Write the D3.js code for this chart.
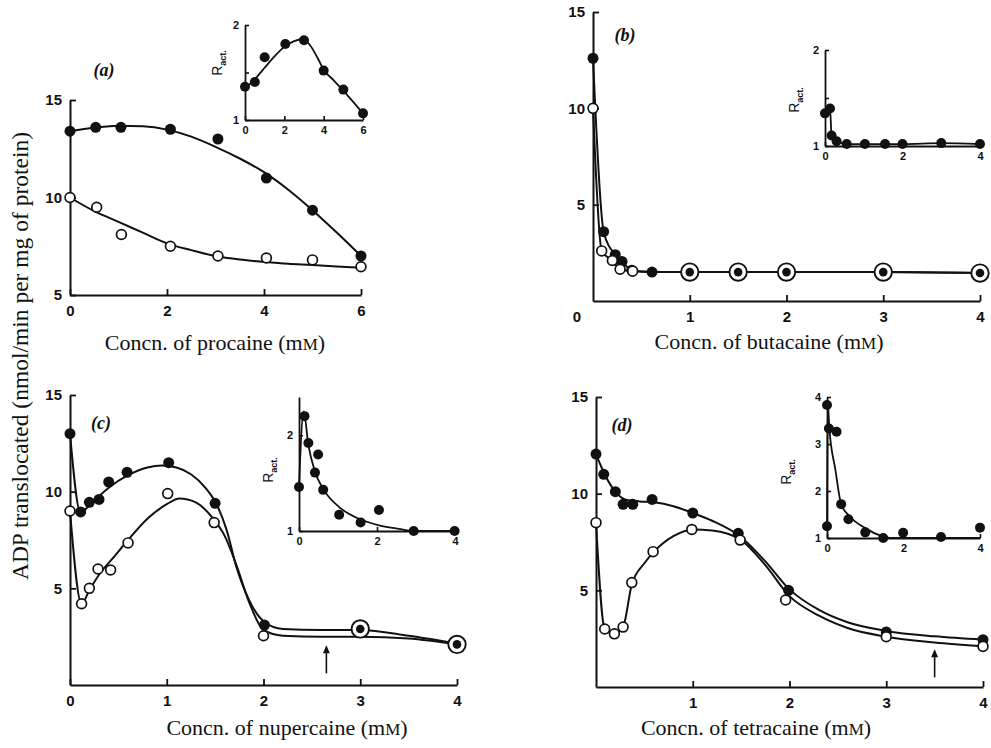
<!DOCTYPE html>
<html>
<head>
<meta charset="utf-8">
<script src="https://cdn.jsdelivr.net/npm/d3@7"></script>
<style>
  body { margin: 0; background: #fff; }
  svg { display: block; }
</style>
</head>
<body>
<script>
// ---- data (x = mM, y = nmol/min per mg) ----

// (a) procaine
var procaineFilled = [[0,13.4],[0.53,13.6],[1.05,13.6],[2.07,13.5],[3.05,13.0],[4.05,11.0],[5,9.35],[6,7.0]]
var procaineOpen = [[0,10.0],[0.55,9.5],[1.06,8.1],[2.07,7.5],[3.05,7.0],[4.05,6.9],[5,6.8],[6,6.45]]
var procaineFilledFit = [[0,13.4],[0.5,13.58],[1,13.68],[1.5,13.65],[2,13.48],[2.5,13.12],[3,12.6],[3.5,12.0],[4,11.3],[4.5,10.4],[5,9.35],[5.5,8.2],[6,7.0]]
var procaineOpenFit = [[0,10.0],[0.5,9.3],[1,8.75],[1.5,8.2],[2,7.65],[2.5,7.3],[3,7.0],[3.5,6.82],[4,6.7],[4.5,6.6],[5,6.54],[5.5,6.46],[6,6.4]]
var procaineRact = [[0,1.35],[0.5,1.4],[1,1.66],[2.05,1.8],[3,1.84],[4,1.52],[5,1.32],[6,1.07]]
var procaineRactFit = [[0,1.33],[0.5,1.43],[1,1.55],[1.5,1.67],[2,1.77],[2.5,1.83],[2.9,1.85],[3.3,1.79],[3.7,1.65],[4,1.53],[4.5,1.42],[5,1.31],[5.5,1.19],[6,1.07]]

// (b) butacaine
var butacaineFilled = [[0,12.6],[0.11,3.6],[0.23,2.4],[0.3,2.05],[0.4,1.6],[0.61,1.5]]
var butacaineOpen = [[0,10.0],[0.09,2.6],[0.2,2.1],[0.28,1.65],[0.41,1.55]]
var butacaineBoth = [[1,1.5],[1.5,1.5],[2,1.5],[3,1.5],[4,1.45]]
var butacaineRact = [[0,1.34],[0.13,1.39],[0.17,1.11],[0.3,1.05],[0.56,1.02],[1.03,1.02],[1.55,1.02],[2,1.02],[3,1.03],[4,1.02]]

// (c) nupercaine
var nupercaineFilled = [[0,13.0],[0.11,8.95],[0.2,9.45],[0.3,9.6],[0.4,10.5],[0.59,11.0],[1.02,11.5],[1.5,9.4],[2.01,3.1]]
var nupercaineOpen = [[0,9.0],[0.12,4.2],[0.2,5.0],[0.29,6.0],[0.42,5.95],[0.6,7.35],[1.01,9.9],[1.49,8.4],[2.0,2.55]]
var nupercaineBoth = [[3,2.9],[4,2.1]]
var nupercaineFilledFit = [[0,13.0],[0.11,8.9],[0.2,9.3],[0.4,10.2],[0.6,10.85],[0.8,11.25],[0.95,11.35],[1.1,11.25],[1.25,10.9],[1.4,10.2],[1.52,9.3],[1.62,8.0],[1.72,6.1],[1.85,4.4],[2.0,3.3],[2.2,2.9],[2.6,2.85],[3.0,2.85],[3.5,2.55],[4,2.15]]
var nupercaineOpenFit = [[0,9.0],[0.12,4.2],[0.2,4.9],[0.3,5.7],[0.45,6.6],[0.6,7.5],[0.8,8.6],[1.0,9.35],[1.13,9.65],[1.3,9.45],[1.48,8.6],[1.6,7.7],[1.72,6.2],[1.85,4.3],[2.0,2.85],[2.2,2.55],[2.6,2.5],[3.0,2.5],[3.5,2.4],[4,2.1]]
var nupercaineRact = [[0,1.46],[0.14,2.2],[0.24,1.92],[0.41,1.61],[0.49,1.8],[0.62,1.43],[1.03,1.17],[1.58,1.09],[2.05,1.22],[2.94,1.0],[3.99,1.0]]
var nupercaineRactFit = [[0,1.47],[0.12,2.25],[0.24,1.9],[0.41,1.62],[0.62,1.44],[1.03,1.25],[1.58,1.12],[2.05,1.06],[2.6,1.02],[2.94,1.0],[4,1.0]]

// (d) tetracaine
var tetracaineFilled = [[0,12.05],[0.08,11.0],[0.2,10.1],[0.28,9.45],[0.38,9.45],[0.58,9.7],[1.0,9.0],[1.47,7.95],[1.99,5.0],[3,2.85],[4,2.45]]
var tetracaineOpen = [[0,8.5],[0.09,3.0],[0.19,2.75],[0.28,3.1],[0.37,5.4],[0.59,7.0],[0.99,8.15],[1.49,7.6],[1.96,4.5],[3,2.6],[4,2.1]]
var tetracaineFilledFit = [[0,12.05],[0.1,10.9],[0.2,10.1],[0.3,9.7],[0.45,9.6],[0.6,9.55],[0.8,9.35],[1.0,9.0],[1.2,8.6],[1.5,7.75],[1.75,6.5],[2.0,5.05],[2.3,4.0],[2.6,3.35],[3.0,2.9],[3.5,2.62],[4,2.45]]
var tetracaineOpenFit = [[0,8.5],[0.09,3.0],[0.19,2.75],[0.28,3.1],[0.37,5.3],[0.5,6.4],[0.6,7.0],[0.8,7.8],[1.0,8.15],[1.2,8.1],[1.5,7.6],[1.75,6.3],[2.0,4.7],[2.3,3.7],[2.6,3.05],[3.0,2.6],[3.5,2.3],[4,2.1]]
var tetracaineRact = [[0,1.25],[0,3.83],[0.05,3.33],[0.25,3.26],[0.37,1.72],[0.56,1.4],[1.0,1.12],[1.47,1.0],[1.99,1.11],[2.98,1.02],[4,1.22]]
var tetracaineRactFit = [[0,1.25],[0.02,3.9],[0.06,3.35],[0.22,2.45],[0.37,1.72],[0.56,1.49],[1.0,1.21],[1.4,1.05],[1.7,1.0],[4,1.0]]

// arrows (x, from y, to y)
var nupercaineArrow = [2.65, 0.6, 2.05]
var tetracaineArrow = [3.5, 0.5, 1.95]

var yTitle = "ADP translocated (nmol/min per mg of protein)"

// ---- drawing ----
var svg = d3.select("body").append("svg")
    .attr("width", 991)
    .attr("height", 748)

var serif = "'Liberation Serif', 'Times New Roman', serif"
var sans = "'Liberation Sans', Arial, sans-serif"

function drawAxes(c){
    var x = d3.scaleLinear().domain(c.xDomain).range(c.xRange)
    var y = d3.scaleLinear().domain(c.yDomain).range(c.yRange)
    var g = svg.append("g")

    var ax = g.append("g")
        .attr("transform", "translate(0," + c.yRange[0] + ")")
        .call(d3.axisBottom(x).tickValues(c.xTicks).tickSize(-c.tick).tickSizeOuter(0)
            .tickPadding(c.xPad).tickFormat(d3.format("d")))
    var ay = g.append("g")
        .attr("transform", "translate(" + c.xRange[0] + ",0)")
        .call(d3.axisLeft(y).tickValues(c.yTicks).tickSize(-c.tick).tickSizeOuter(0)
            .tickPadding(c.yPad).tickFormat(function(d){ return Number.isInteger(d) ? d : "" }))

    ;[ax, ay].forEach(function(a){
        a.attr("font-family", sans).attr("font-size", c.fs).attr("font-weight", "bold")
        a.select(".domain").attr("stroke", "#111").attr("stroke-width", c.sw)
        a.selectAll(".tick line").attr("stroke", "#111").attr("stroke-width", c.sw * 0.9)
        a.selectAll(".tick text").attr("fill", "#111")
    })
    return {g: g, x: x, y: y}
}

function drawLine(p, pts, w){
    var line = d3.line()
        .x(function(d){ return p.x(d[0]) })
        .y(function(d){ return p.y(d[1]) })
        .curve(d3.curveMonotoneX)
    p.g.append("path")
        .attr("d", line(pts))
        .attr("fill", "none")
        .attr("stroke", "#111")
        .attr("stroke-width", w)
}

function drawDots(p, pts, kind, r){
    var sel = p.g.append("g").selectAll("g").data(pts).enter().append("g")
        .attr("transform", function(d){ return "translate(" + p.x(d[0]) + "," + p.y(d[1]) + ")" })
    if(kind == "filled"){
        sel.append("circle").attr("r", r).attr("fill", "#111")
    }
    else if(kind == "open"){
        sel.append("circle").attr("r", r - 0.6).attr("fill", "#fff").attr("stroke", "#111").attr("stroke-width", 1.7)
    }
    else{
        sel.append("circle").attr("r", r + 3.2).attr("fill", "#fff").attr("stroke", "#111").attr("stroke-width", 1.9)
        sel.append("circle").attr("r", r - 1.2).attr("fill", "#111")
    }
}

function xTitle(name, cx, by){
    var t = svg.append("text")
        .attr("x", cx).attr("y", by)
        .attr("text-anchor", "middle")
        .attr("font-family", serif)
        .attr("font-size", 22)
        .attr("fill", "#111")
    t.append("tspan").text("Concn. of " + name + " (m")
    t.append("tspan").attr("font-size", 17).text("M")
    t.append("tspan").text(")")
}

function panelLabel(txt, cx, by){
    svg.append("text").attr("x", cx).attr("y", by)
        .attr("text-anchor", "middle")
        .attr("font-family", serif).attr("font-style", "italic").attr("font-weight", "bold")
        .attr("font-size", 18).attr("fill", "#111")
        .text(txt)
}

function ractLabel(cx, cy){
    var t = svg.append("text")
        .attr("transform", "translate(" + cx + "," + cy + ") rotate(-90)")
        .attr("text-anchor", "middle")
        .attr("font-family", sans).attr("font-size", 14).attr("fill", "#111")
    t.append("tspan").text("R")
    t.append("tspan").attr("font-size", 9).attr("font-weight", "bold").attr("dy", 4).text("act.")
}

function arrow(p, a){
    var x0 = p.x(a[0]), y0 = p.y(a[1]), y1 = p.y(a[2])
    p.g.append("line").attr("x1", x0).attr("x2", x0).attr("y1", y0).attr("y2", y1 + 2)
        .attr("stroke", "#111").attr("stroke-width", 1.6)
    p.g.append("path")
        .attr("d", "M" + (x0 - 3.5) + "," + (y1 + 8) + "L" + x0 + "," + y1 + "L" + (x0 + 3.5) + "," + (y1 + 8) + "Z")
        .attr("fill", "#111")
}

var mainStyle = {tick: 6, xPad: 10, yPad: 8, fs: 15, sw: 2}
var insetStyle = {tick: 4, xPad: 6, yPad: 6, fs: 11, sw: 1.8}

// ----- (a)
var pa = drawAxes(Object.assign({xDomain: [0, 6], xRange: [70, 361], yDomain: [5, 15], yRange: [295, 100],
    xTicks: [0, 2, 4, 6], yTicks: [5, 10, 15]}, mainStyle))
drawLine(pa, procaineFilledFit, 2)
drawLine(pa, procaineOpenFit, 2)
drawDots(pa, procaineFilled, "filled", 5.5)
drawDots(pa, procaineOpen, "open", 5.5)

var ia = drawAxes(Object.assign({xDomain: [0, 6], xRange: [245, 363], yDomain: [1, 2], yRange: [120, 25],
    xTicks: [0, 2, 4, 6], yTicks: [1, 1.5, 2]}, insetStyle))
drawLine(ia, procaineRactFit, 1.8)
drawDots(ia, procaineRact, "filled", 5)
ractLabel(222, 63)
panelLabel("(a)", 104, 76)
xTitle("procaine", 215, 350)

// ----- (b)
var pb = drawAxes(Object.assign({xDomain: [0, 4], xRange: [593, 980], yDomain: [0, 15], yRange: [301, 12],
    xTicks: [1, 2, 3, 4], yTicks: [5, 10, 15]}, mainStyle))
drawLine(pb, butacaineFilled.concat(butacaineBoth), 2)
drawLine(pb, butacaineOpen.concat(butacaineBoth), 2)
drawDots(pb, butacaineFilled, "filled", 5.5)
drawDots(pb, butacaineOpen, "open", 5.5)
drawDots(pb, butacaineBoth, "both", 5.5)
svg.append("text").attr("x", 577).attr("y", 322).attr("text-anchor", "middle")
    .attr("font-family", sans).attr("font-size", 15).attr("font-weight", "bold").attr("fill", "#111")
    .text("0")

var ib = drawAxes(Object.assign({xDomain: [0, 4], xRange: [825, 980], yDomain: [1, 2], yRange: [146, 50],
    xTicks: [0, 2, 4], yTicks: [1, 1.5, 2]}, insetStyle))
drawLine(ib, butacaineRact, 1.8)
drawDots(ib, butacaineRact, "filled", 5)
ractLabel(799, 100)
panelLabel("(b)", 625, 41)
xTitle("butacaine", 769, 349)

// ----- (c)
var pc = drawAxes(Object.assign({xDomain: [0, 4], xRange: [70, 457], yDomain: [0, 15], yRange: [685, 395],
    xTicks: [0, 1, 2, 3, 4], yTicks: [5, 10, 15]}, mainStyle))
drawLine(pc, nupercaineFilledFit, 2)
drawLine(pc, nupercaineOpenFit, 2)
drawDots(pc, nupercaineFilled, "filled", 5.5)
drawDots(pc, nupercaineOpen, "open", 5.5)
drawDots(pc, nupercaineBoth, "both", 5.5)
arrow(pc, nupercaineArrow)

var ic = drawAxes(Object.assign({xDomain: [0, 4], xRange: [299, 455], yDomain: [1, 2.4], yRange: [531, 397],
    xTicks: [0, 2, 4], yTicks: [1, 2]}, insetStyle))
drawLine(ic, nupercaineRactFit, 1.8)
drawDots(ic, nupercaineRact, "filled", 5)
ractLabel(273, 470)
panelLabel("(c)", 101, 429)
xTitle("nupercaine", 287, 735)

// ----- (d)
var pd = drawAxes(Object.assign({xDomain: [0, 4], xRange: [596, 983], yDomain: [0, 15], yRange: [687, 397],
    xTicks: [1, 2, 3, 4], yTicks: [5, 10, 15]}, mainStyle))
drawLine(pd, tetracaineFilledFit, 2)
drawLine(pd, tetracaineOpenFit, 2)
drawDots(pd, tetracaineFilled, "filled", 5.5)
drawDots(pd, tetracaineOpen, "open", 5.5)
arrow(pd, tetracaineArrow)

var id = drawAxes(Object.assign({xDomain: [0, 4], xRange: [827, 980], yDomain: [1, 4], yRange: [538, 397],
    xTicks: [0, 2, 4], yTicks: [1, 2, 3, 4]}, insetStyle))
drawLine(id, tetracaineRactFit, 1.8)
drawDots(id, tetracaineRact, "filled", 5)
ractLabel(791, 472)
panelLabel("(d)", 622, 431)
xTitle("tetracaine", 756, 735)

// shared y title
svg.append("text")
    .attr("transform", "translate(28,356) rotate(-90)")
    .attr("text-anchor", "middle")
    .attr("font-family", serif).attr("font-size", 23.5).attr("fill", "#111")
    .text(yTitle)
</script>
</body>
</html>
